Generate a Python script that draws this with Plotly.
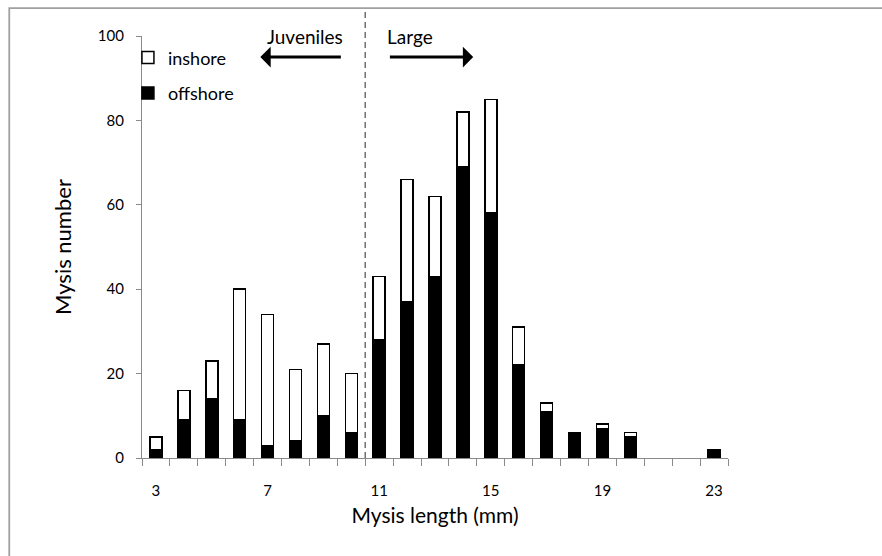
import plotly.graph_objects as go

# Mysis length classes (mm) and counts per habitat
lengths = list(range(3, 24))
offshore = [2, 9, 14, 9, 3, 4, 10, 6, 28, 37, 43, 69, 58, 22, 11, 6, 7, 5, 0, 0, 2]
inshore = [3, 7, 9, 31, 31, 17, 17, 14, 15, 29, 19, 13, 27, 9, 2, 0, 1, 1, 0, 0, 0]
x_tick_labels = [3, 7, 11, 15, 19, 23]
y_tick_labels = [0, 20, 40, 60, 80, 100]
size_split = 10.5  # boundary between juvenile and large classes

FONT = "Lato"
AXIS_GREY = "#8a8a8a"


def nonzero(values):
    return [v if v else None for v in values]


fig = go.Figure()
fig.add_trace(go.Bar(
    x=lengths, y=nonzero(offshore), name="offshore", legendgroup="off",
    legendrank=2,
    marker=dict(color="black", line=dict(color="black", width=1.5)),
))
fig.add_trace(go.Bar(
    x=lengths, y=nonzero(inshore), name="inshore", legendgroup="in",
    legendrank=1,
    marker=dict(color="white", line=dict(color="black", width=1.5)),
))

fig.update_layout(
    width=882, height=556,
    margin=dict(l=142, r=154, t=36, b=98),
    barmode="stack", bargap=0.57,
    plot_bgcolor="white", paper_bgcolor="white",
    font=dict(family=FONT, color="black", size=15),
    showlegend=True,
    legend=dict(
        x=-0.024, y=0.992, xanchor="left", yanchor="top",
        traceorder="grouped", tracegroupgap=9,
        bgcolor="rgba(0,0,0,0)", font=dict(family=FONT, size=18),
        itemwidth=30,
    ),
)

fig.update_xaxes(
    range=[2.5, 23.5], tickmode="array", tickvals=x_tick_labels,
    ticktext=[str(v) for v in x_tick_labels], ticks="", ticklabelstandoff=19,
    showline=True, linecolor=AXIS_GREY, linewidth=1.2, showgrid=False, zeroline=False,
    minor=dict(tickmode="linear", tick0=2.5, dtick=1, ticks="outside",
               ticklen=7, tickcolor=AXIS_GREY, tickwidth=1.2, showgrid=False),
    tickfont=dict(size=15),
    title=dict(text="Mysis length (mm)", font=dict(size=21), standoff=10),
)
fig.update_yaxes(
    range=[0, 100], tickmode="array", tickvals=y_tick_labels,
    ticks="outside", ticklen=5, tickcolor=AXIS_GREY, tickwidth=1.2,
    ticklabelstandoff=9,
    showline=True, linecolor=AXIS_GREY, linewidth=1.2, showgrid=False, zeroline=False,
    tickfont=dict(size=15),
    title=dict(text="Mysis number", font=dict(size=22), standoff=20),
)

# dashed divider between juvenile and large size classes
fig.add_shape(type="line", xref="x", yref="paper", x0=size_split, x1=size_split,
              y0=0, y1=1.066, line=dict(color="#707070", width=1.5, dash="6px,4px"))

# outer chart frame
fig.add_shape(type="rect", xref="paper", yref="paper",
              x0=-0.2265, x1=1.3, y0=-0.3, y1=1.066,
              line=dict(color="#a0a0a0", width=1.8), fillcolor="rgba(0,0,0,0)")

# size-class labels with direction arrows
fig.add_annotation(x=8.35, y=0.998, xref="x", yref="paper", text="Juveniles",
                   showarrow=False, yanchor="middle", xanchor="center",
                   font=dict(size=19, family=FONT))
fig.add_annotation(x=12.12, y=0.998, xref="x", yref="paper", text="Large",
                   showarrow=False, yanchor="middle", xanchor="center",
                   font=dict(size=19, family=FONT))
fig.add_annotation(x=6.74, y=95, ax=9.68, ay=95, xref="x", yref="y",
                   axref="x", ayref="y", text="", showarrow=True,
                   arrowhead=1, arrowsize=1.15, arrowwidth=3, arrowcolor="black")
fig.add_annotation(x=14.37, y=95, ax=11.33, ay=95, xref="x", yref="y",
                   axref="x", ayref="y", text="", showarrow=True,
                   arrowhead=1, arrowsize=1.15, arrowwidth=3, arrowcolor="black")

fig.write_html("out.html")
